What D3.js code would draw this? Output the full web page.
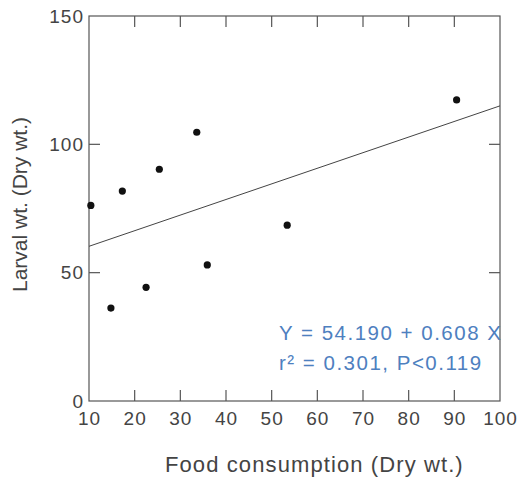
<!DOCTYPE html>
<html><head><meta charset="utf-8">
<script src="https://cdn.jsdelivr.net/npm/d3@7"></script>
<style>body{margin:0;background:#fff}svg{display:block}text{font-family:"Liberation Sans",Arial,sans-serif}</style>
</head><body>
<script>
const foodX = [10.4, 14.8, 17.3, 22.5, 25.4, 33.6, 35.9, 53.4, 90.5];
const larvalY = [76.2, 36.2, 81.8, 44.3, 90.3, 104.7, 53.0, 68.5, 117.3];
const xTicks = [10, 20, 30, 40, 50, 60, 70, 80, 90, 100];
const yTicks = [0, 50, 100, 150];
const intercept = 54.190, slope = 0.608;
const eqLines = ["Y = 54.190 + 0.608 X", "r² = 0.301, P<0.119"];

const W = 519, H = 486;
const m = {l: 89, r: 19, t: 16, b: 85};
const svg = d3.select("body").append("svg").attr("width", W).attr("height", H);
const x = d3.scaleLinear().domain([10, 100]).range([m.l, W - m.r]);
const y = d3.scaleLinear().domain([0, 150]).range([H - m.b, m.t]);
const axisCol = "#555", txtCol = "#444";

const g = svg.append("g");
g.append("rect").attr("x", x(10)).attr("y", y(150)).attr("width", x(100) - x(10)).attr("height", y(0) - y(150))
  .attr("fill", "none").attr("stroke", axisCol).attr("stroke-width", 1.2);

const tl = 11;
const innerX = xTicks.filter(d => d > 10 && d < 100);
const innerY = yTicks.filter(d => d > 0 && d < 150);
const bx = svg.append("g").attr("transform", `translate(0,${y(0)})`)
  .call(d3.axisBottom(x).tickValues(xTicks).tickSize(0).tickPadding(11));
bx.select(".domain").remove();
bx.selectAll("text").attr("font-size", 19).attr("fill", txtCol).attr("letter-spacing", 1).attr("font-family", "Liberation Sans, Arial");
const ly = svg.append("g").attr("transform", `translate(${x(10)},0)`)
  .call(d3.axisLeft(y).tickValues(yTicks).tickSize(0).tickPadding(5));
ly.select(".domain").remove();
ly.selectAll("text").attr("font-size", 19).attr("fill", txtCol).attr("letter-spacing", 1).attr("font-family", "Liberation Sans, Arial");

g.selectAll(".tb").data(innerX).join("line").attr("x1", d => x(d)).attr("x2", d => x(d))
  .attr("y1", y(0)).attr("y2", y(0) - tl).attr("stroke", axisCol).attr("stroke-width", 1.2);
g.selectAll(".tt").data(innerX).join("line").attr("x1", d => x(d)).attr("x2", d => x(d))
  .attr("y1", y(150)).attr("y2", y(150) + tl).attr("stroke", axisCol).attr("stroke-width", 1.2);
g.selectAll(".tl").data(innerY).join("line").attr("x1", x(10)).attr("x2", x(10) + tl)
  .attr("y1", d => y(d)).attr("y2", d => y(d)).attr("stroke", axisCol).attr("stroke-width", 1.2);
g.selectAll(".tr").data(innerY).join("line").attr("x1", x(100)).attr("x2", x(100) - tl)
  .attr("y1", d => y(d)).attr("y2", d => y(d)).attr("stroke", axisCol).attr("stroke-width", 1.2);

g.append("line").attr("x1", x(10)).attr("y1", y(intercept + slope * 10))
  .attr("x2", x(100)).attr("y2", y(intercept + slope * 100)).attr("stroke", "#444").attr("stroke-width", 1);

g.selectAll("circle").data(foodX.map((d, i) => [d, larvalY[i]])).join("circle")
  .attr("cx", d => x(d[0])).attr("cy", d => y(d[1])).attr("r", 3.6).attr("fill", "#111");

const eq = svg.append("text").attr("fill", "#4e80bf").attr("font-size", 20.5).attr("letter-spacing", 1.5);
eq.append("tspan").attr("x", 279).attr("y", 340).text(eqLines[0]);
eq.append("tspan").attr("x", 279).attr("y", 370).text(eqLines[1]);

svg.append("text").attr("x", 165).attr("y", 472)
  .attr("font-size", 22).attr("letter-spacing", 1.1).attr("fill", txtCol).text("Food consumption (Dry wt.)");
svg.append("text").attr("transform", `translate(27,204.5) rotate(-90)`).attr("text-anchor", "middle")
  .attr("font-size", 21).attr("fill", txtCol).text("Larval wt. (Dry wt.)");
</script>
</body></html>
